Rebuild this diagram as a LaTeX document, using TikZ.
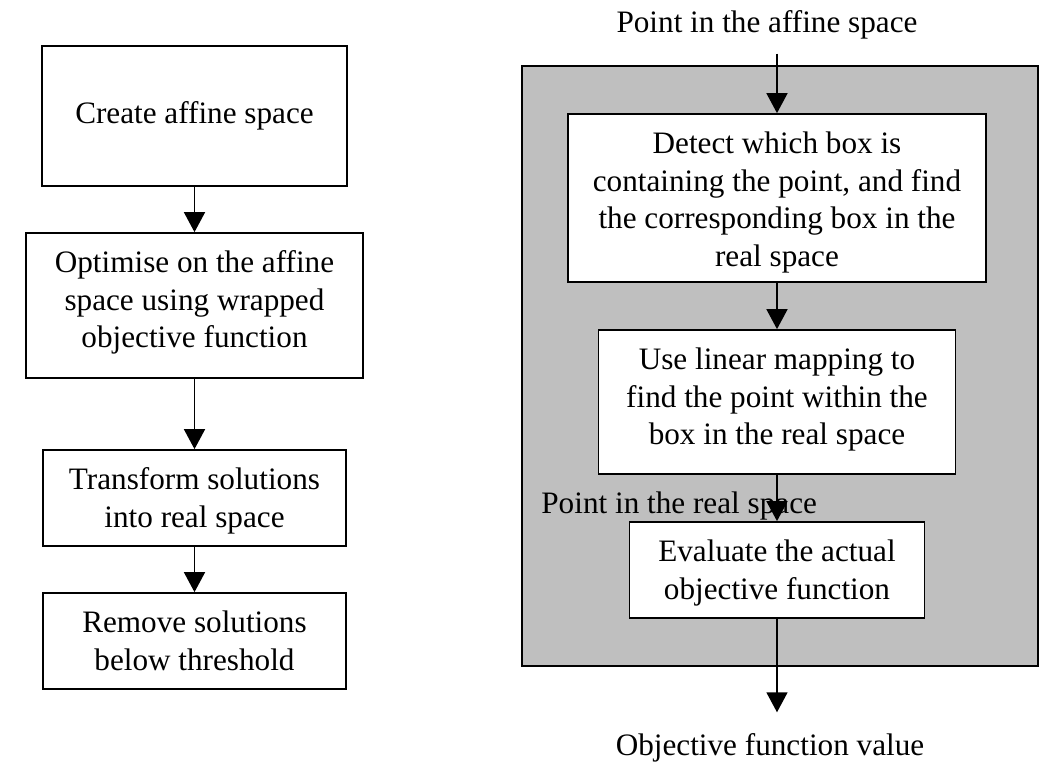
\documentclass[tikz,border=0pt]{standalone}
\usepackage{fontspec}
\setmainfont{Liberation Serif}
\usetikzlibrary{arrows.meta,positioning}
\tikzstyle{stepBox} = [rectangle, draw=black, fill=white, inner sep=0pt, line width=0.85pt]
\tikzstyle{grayFrame} = [rectangle, draw=black, fill=black!25, inner sep=0pt, line width=0.85pt]
\tikzstyle{eNode} = [inner sep=0pt]
\tikzstyle{arrowK} = [line width=0.85pt, -{Triangle[width=10.5pt,length=10pt]}]
\newcommand{\stepText}[3]{\parbox[c][#2][t]{#1}{\centering\rule{0pt}{20pt}#3}}

\begin{document}
\begin{tikzpicture}[x=0.5pt, y=-0.5pt, font=\fontsize{15.6}{18.75}\selectfont]
    \useasboundingbox (0,0) rectangle (1041,763);
    % left flow
    \node (create) [stepBox, minimum width=152.5pt, minimum height=70pt] at (194.5,116) {Create affine space};
    \node (optimise) [stepBox] at (194.5,305.5) {\stepText{168.5pt}{72.5pt}{Optimise on the affine\\ space using wrapped\\ objective function}};
    \node (transform) [stepBox] at (194.5,498) {\stepText{151.5pt}{48pt}{Transform solutions\\ into real space}};
    \node (remove) [stepBox] at (194.5,641) {\stepText{151.5pt}{48pt}{Remove solutions\\ below threshold}};
    
    \draw [arrowK] (create) -- (optimise);
    \draw [arrowK] (optimise) -- (transform);
    \draw [arrowK] (transform) -- (remove);
    
    % wrapped objective function
    \node (frame) [grayFrame, minimum width=258pt, minimum height=300pt] at (780,366) {};
    \node (affine) [eNode] at (767,25) {Point in the affine space};
    \node (detect) [stepBox] at (777,198) {\stepText{209pt}{84pt}{Detect which box is\\ containing the point, and find\\ the corresponding box in the\\ real space}};
    \node (linear) [stepBox] at (777,402) {\stepText{178.5pt}{72pt}{Use linear mapping to\\ find the point within the\\ box in the real space}};
    \node (real) [eNode, anchor=west] at (541,506) {Point in the real space};
    \node (evaluate) [stepBox] at (777,570) {\stepText{147.5pt}{48pt}{Evaluate the actual\\ objective function}};
    \node (value) [eNode] at (770,748) {Objective function value};
    
    \draw [arrowK, shorten <=7pt] (affine.south -| detect.north) -- (detect);
    \draw [arrowK] (detect) -- (linear);
    \draw [arrowK] (linear) -- (evaluate);
    \draw [arrowK, shorten >=10.5pt] (evaluate) -- (evaluate.south |- value.north);
\end{tikzpicture}
\end{document}
